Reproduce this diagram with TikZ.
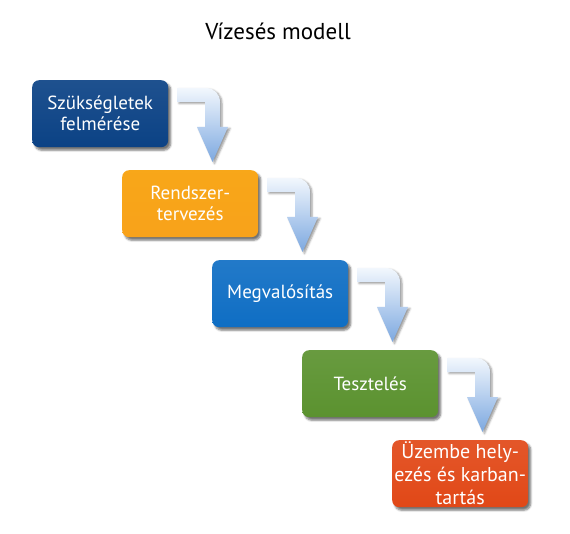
\documentclass[tikz,border=0pt]{standalone}
\usepackage{fontspec}
\setmainfont{PT Sans}
\usetikzlibrary{shadows.blur,calc}
\definecolor{cA}{HTML}{0B4285}
\definecolor{cB}{HTML}{F8A21A}
\definecolor{cC}{HTML}{0F6EC4}
\definecolor{cD}{HTML}{5B922F}
\definecolor{cE}{HTML}{E14817}
\definecolor{arTop}{HTML}{F2F7FD}
\definecolor{arBot}{HTML}{7CA8E0}
\tikzset{
  phase/.style={rounded corners=7pt, minimum width=136pt, minimum height=67pt,
    inner sep=0pt, anchor=north west, text=white, align=center,
    font=\fontsize{19}{21}\selectfont,
    blur shadow={shadow xshift=2.5pt, shadow yshift=-3pt, shadow blur steps=6, shadow opacity=55}},
  flowarrow/.style={top color=arTop, bottom color=arBot, draw=none,
    blur shadow={shadow xshift=2pt, shadow yshift=-1.5pt, shadow blur steps=4, shadow opacity=40}}
}
\newcommand{\bendarrow}[1]{%
  \path[flowarrow] ($(#1)+(145,8)$) -- ($(#1)+(174,8)$)
    .. controls ($(#1)+(182,8)$) and ($(#1)+(188,14)$) .. ($(#1)+(188,22)$)
    -- ($(#1)+(188,47)$) -- ($(#1)+(196,47)$) -- ($(#1)+(180.5,82)$)
    -- ($(#1)+(165,47)$) -- ($(#1)+(173,47)$) -- ($(#1)+(173,22)$)
    -- ($(#1)+(145,22)$) -- cycle;}
\begin{document}
\begin{tikzpicture}[x=1pt,y=-1pt]
\useasboundingbox (0,0) rectangle (570,534);
\node[font=\fontsize{23}{26}\selectfont] (title) at (278,31) {Vízesés modell};
\coordinate (p1) at (32,80);
\coordinate (p2) at (122,170);
\coordinate (p3) at (212,260);
\coordinate (p4) at (302,350);
\coordinate (p5) at (392,440);
\node[phase, top color=cA!92!white, bottom color=cA] (b1) at (p1) {Szükségletek\\felmérése};
\node[phase, top color=cB!95!yellow, bottom color=cB] (b2) at (p2) {Rendszer-\\tervezés};
\node[phase, top color=cC!92!white, bottom color=cC] (b3) at (p3) {Megvalósítás};
\node[phase, top color=cD!92!white, bottom color=cD] (b4) at (p4) {Tesztelés};
\node[phase, top color=cE!92!white, bottom color=cE, font=\fontsize{20}{23}\selectfont] (b5) at (p5) {Üzembe hely-\\ezés és karban-\\tartás};
\bendarrow{p1}
\bendarrow{p2}
\bendarrow{p3}
\bendarrow{p4}
\end{tikzpicture}
\end{document}
